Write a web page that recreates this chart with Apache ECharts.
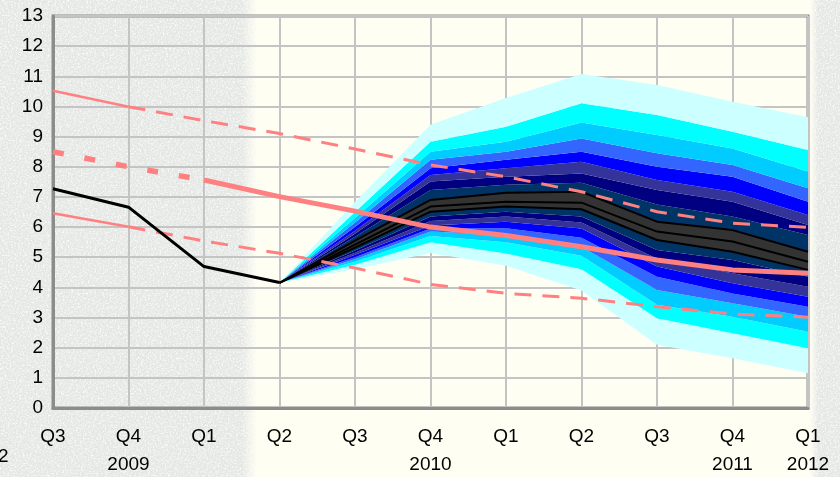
<!DOCTYPE html>
<html>
<head>
<meta charset="utf-8">
<script src="https://cdn.jsdelivr.net/npm/echarts@6/dist/echarts.min.js"></script>
<style>
  html, body { margin: 0; padding: 0; }
  #wrap { position: relative; width: 840px; height: 477px; overflow: hidden;
    background-color: #e4e7e4;
    background-image: url("data:image/svg+xml,%3Csvg xmlns='http://www.w3.org/2000/svg' width='240' height='240'%3E%3Cfilter id='n'%3E%3CfeTurbulence type='fractalNoise' baseFrequency='0.6' numOctaves='3' seed='4'/%3E%3CfeColorMatrix values='0 0 0 0 1 0 0 0 0 1 0 0 0 0 1 0 0 0 2.2 -0.95'/%3E%3C/filter%3E%3Crect width='100%25' height='100%25' filter='url(%23n)'/%3E%3C/svg%3E");
  }
  #panel { position: absolute; left: 242px; top: 0; width: 576px; height: 477px;
    background: linear-gradient(to right, rgba(254,254,242,0) 0px, #fefef3 15px, #fefef3 568px, rgba(254,254,242,0) 576px); }
  #chart { position: absolute; left: 0; top: 0; width: 840px; height: 477px; }
</style>
</head>
<body>
<div id="wrap"><div id="panel"></div><div id="chart"></div></div>
<script>
// ---- data ----
const categories = ['Q3', 'Q4', 'Q1', 'Q2', 'Q3', 'Q4', 'Q1', 'Q2', 'Q3', 'Q4', 'Q1'];
const years      = ['',   '2009', '', '', '', '2010', '', '', '', '2011', '2012'];

// outturn (black line), Q3 2009 .. Q2 2010
const actual = [7.27, 6.66, 4.69, 4.16];

// central projection (thick pink): dashed history, solid projection
const centralPast = [8.5, 8.0, 7.56];
const centralProj = [7.56, 7.01, 6.53, 6.0, 5.72, 5.35, 4.91, 4.58, 4.47]; // from Q1 2010

// thin pink bounds: solid first segment, then dashed
const upperSolid  = [10.52, 9.99];
const upperDashed = [9.99, 9.53, 9.1, 8.59, 8.06, 7.67, 7.17, 6.51, 6.13, 5.99]; // from Q4 2009
const lowerSolid  = [6.46, 6.01];
const lowerDashed = [6.01, 5.54, 5.13, 4.64, 4.1, 3.8, 3.64, 3.36, 3.12, 3.01];  // from Q4 2009

// fan chart band edges, Q2 2010 .. Q1 2012 (bottom edge e0 to top edge e18)
const e0  = [4.15, 4.6,  5.14, 4.72, 3.9,  2.1,  1.65, 1.15];
const e1  = [4.15, 4.75, 5.5,  5.12, 4.6,  2.98, 2.48, 1.98];
const e2  = [4.15, 4.85, 5.7,  5.5,  5.05, 3.42, 3.03, 2.53];
const e3  = [4.15, 4.93, 5.85, 5.74, 5.35, 3.91, 3.47, 3.03];
const e4  = [4.15, 5.0,  5.95, 5.96, 5.65, 4.35, 3.8,  3.36];
const e5  = [4.15, 5.08, 6.05, 6.18, 5.95, 4.69, 4.14, 3.69];
const e6  = [4.15, 5.15, 6.2,  6.35, 6.15, 4.95, 4.47, 4.02];
const e7  = [4.15, 5.22, 6.35, 6.51, 6.35, 5.24, 4.91, 4.35];
const e8  = [4.15, 5.32, 6.51, 6.68, 6.59, 5.57, 5.18, 4.58];
const e9  = [4.15, 5.42, 6.68, 6.84, 6.81, 5.85, 5.52, 4.85];
const e10 = [4.15, 5.55, 6.9,  7.14, 7.17, 6.18, 5.9,  5.18];
const e11 = [4.15, 5.68, 7.23, 7.4,  7.47, 6.75, 6.35, 5.74];
const e12 = [4.15, 5.78, 7.51, 7.67, 7.78, 7.23, 6.84, 6.07];
const e13 = [4.15, 5.88, 7.73, 7.95, 8.17, 7.56, 7.17, 6.4];
const e14 = [4.15, 6.0,  7.95, 8.23, 8.5,  8.0,  7.67, 6.84];
const e15 = [4.15, 6.15, 8.23, 8.5,  8.94, 8.45, 8.06, 7.29];
const e16 = [4.15, 6.3,  8.5,  8.83, 9.47, 9.05, 8.61, 7.84];
const e17 = [4.15, 6.5,  8.83, 9.33, 10.11, 9.72, 9.16, 8.56];
const e18 = [4.15, 6.83, 9.39, 10.28, 11.08, 10.71, 10.16, 9.64];

// ---- build ----
const edges = [e0, e1, e2, e3, e4, e5, e6, e7, e8, e9, e10, e11, e12, e13, e14, e15, e16, e17, e18];
const bandColors = ['#ccffff', '#00ffff', '#00ccff', '#3366ff', '#0000ff', '#333399', '#000080', '#003366',
  '#333333', '#333333', '#003366', '#000080', '#333399', '#0000ff', '#3366ff', '#00ccff', '#00ffff', '#ccffff'];
const n = categories.length;
const fanStart = n - e0.length;
function place(arr, start) {
  const out = new Array(n).fill('-');
  arr.forEach((v, i) => { out[start + i] = v; });
  return out;
}
const PINK = '#ff8080';
const FONT = 'Liberation Sans, Arial, sans-serif';
const series = [];
series.push({ type: 'line', stack: 'fan', symbol: 'none', silent: true, data: place(e0, fanStart),
  lineStyle: { width: 0, opacity: 0 } });
for (let k = 1; k < edges.length; k++) {
  const diff = edges[k].map((v, i) => +(v - edges[k - 1][i]).toFixed(4));
  series.push({ type: 'line', stack: 'fan', symbol: 'none', silent: true, data: place(diff, fanStart),
    lineStyle: { width: 0, opacity: 0 }, areaStyle: { color: bandColors[k - 1], opacity: 1 } });
}
[e8, e9, e10].forEach(e => series.push({ type: 'line', symbol: 'none', silent: true, data: place(e, fanStart),
  lineStyle: { color: '#000', width: 2 } }));
// thin pink bounds
series.push({ type: 'line', symbol: 'none', data: place(upperSolid, 0), lineStyle: { color: PINK, width: 2.5 } });
series.push({ type: 'line', symbol: 'none', data: place(upperDashed, 1), lineStyle: { color: PINK, width: 3, type: [17, 11] } });
series.push({ type: 'line', symbol: 'none', data: place(lowerSolid, 0), lineStyle: { color: PINK, width: 2.5 } });
series.push({ type: 'line', symbol: 'none', data: place(lowerDashed, 1), lineStyle: { color: PINK, width: 3, type: [17, 11] } });
// central projection
series.push({ type: 'line', symbol: 'none', data: place(centralPast, 0), lineStyle: { color: PINK, width: 5.5, type: [11, 21] } });
series.push({ type: 'line', symbol: 'none', data: place(centralProj, 2), lineStyle: { color: PINK, width: 5 } });
// outturn
series.push({ type: 'line', symbol: 'none', data: place(actual, 0), lineStyle: { color: '#000', width: 3 } });

const chart = echarts.init(document.getElementById('chart'), null, { renderer: 'canvas' });
chart.setOption({
  animation: false,
  backgroundColor: 'transparent',
  textStyle: { fontFamily: FONT },
  grid: { left: 53, right: 32, top: 16, bottom: 69, containLabel: false, outerBoundsMode: 'none',
    show: true, borderColor: '#8c8c8c', borderWidth: 3, backgroundColor: 'transparent' },
  xAxis: {
    type: 'category', boundaryGap: false, data: categories,
    axisLine: { lineStyle: { color: '#8c8c8c', width: 3 } },
    axisTick: { show: false },
    splitLine: { show: true, lineStyle: { color: '#c4c4c4', width: 2 } },
    axisLabel: {
      interval: 0, fontSize: 19, color: '#000', margin: 15, lineHeight: 28, fontFamily: FONT,
      formatter: (v, i) => years[i] ? v + '\n' + years[i] : v
    }
  },
  yAxis: {
    type: 'value', min: 0, max: 13, interval: 1,
    axisLine: { show: true, lineStyle: { color: '#8c8c8c', width: 3 } },
    axisTick: { show: false },
    splitLine: { show: true, lineStyle: { color: '#c4c4c4', width: 2 } },
    axisLabel: { fontSize: 19, color: '#000', margin: 10, fontFamily: FONT }
  },
  graphic: [{ type: 'text', left: -2, top: 447, silent: true,
    style: { text: '2', fontSize: 19, fill: '#000', fontFamily: FONT } }],
  series: series
});
</script>
</body>
</html>
